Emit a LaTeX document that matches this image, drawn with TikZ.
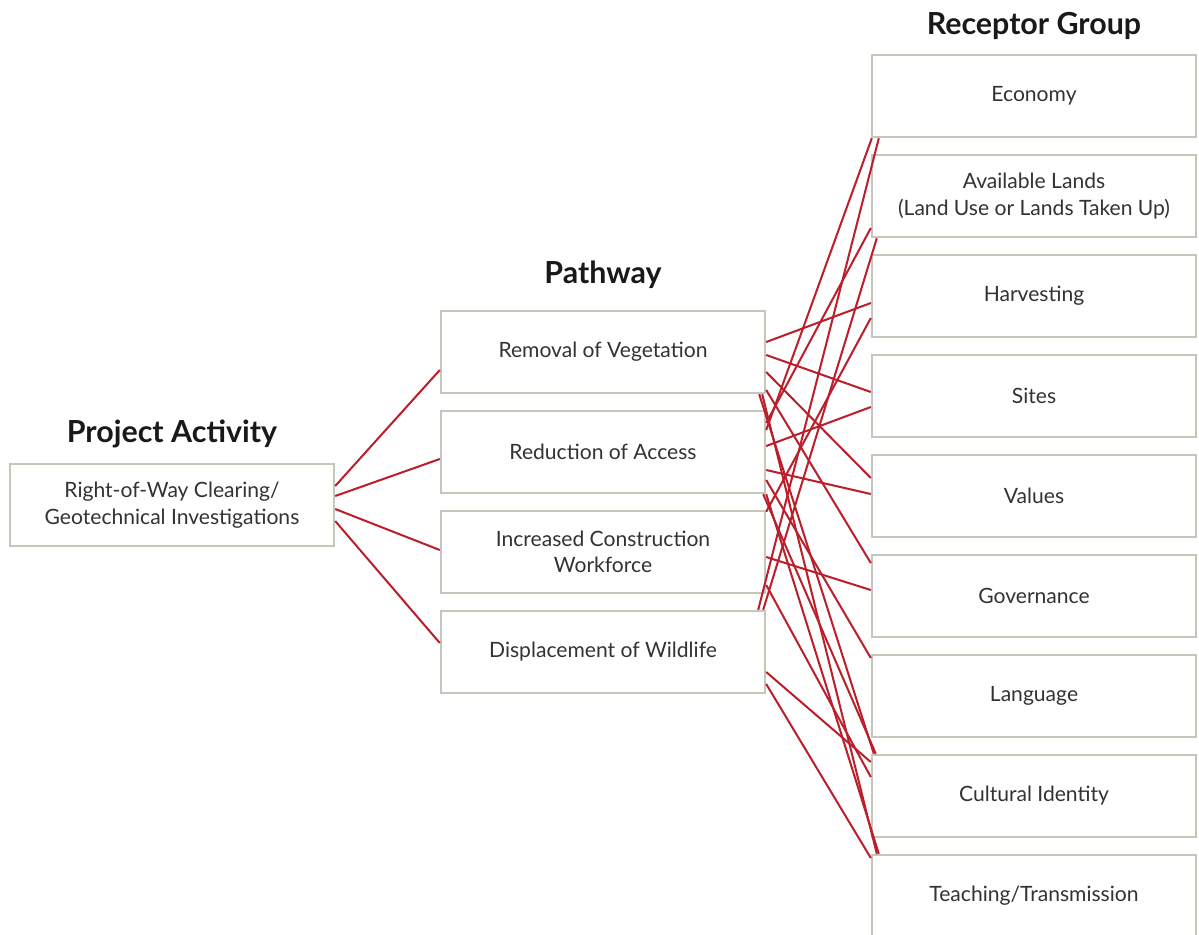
\documentclass[tikz,border=0pt]{standalone}
\usepackage{fontspec}
\setmainfont{Lato}
\usepackage{tikz}
\usetikzlibrary{calc}

\definecolor{boxgray}{HTML}{C6C6BB}
\definecolor{linkred}{HTML}{BC1F2C}
\definecolor{txtgray}{HTML}{333333}

\tikzset{
	box/.style={draw=boxgray,line width=1.4pt,fill=white,text=txtgray,align=center,
		minimum width=6.48cm,minimum height=1.64cm,inner sep=0pt,font=\fontsize{12}{15}\selectfont},
	head/.style={text=black!90,font=\fontsize{17.3}{20}\selectfont\bfseries},
	link/.style={draw=linkred,line width=1.15pt}
}

\begin{document}
\begin{tikzpicture}[x=0.02cm,y=-0.02cm]
	\useasboundingbox (0,0) rectangle (1199,934);
	\clip (0,0) rectangle (1199,934);
	
	% headings
	\node[head] (hact) at (172,434) {Project Activity};
	\node[head] (hpath) at (603,275) {Pathway};
	\node[head] (hrec) at (1034,26) {Receptor Group};
	
	% project activity
	\node[box] (act) at (172,505) {Right-of-Way Clearing/\\Geotechnical Investigations};
	
	% pathways
	\node[box] (rem) at (603,352) {Removal of Vegetation};
	\node[box] (red) at (603,452) {Reduction of Access};
	\node[box] (inc) at (603,552) {Increased Construction\\Workforce};
	\node[box] (dis) at (603,652) {Displacement of Wildlife};
	
	% receptor groups
	\node[box] (eco) at (1034,96) {Economy};
	\node[box] (ava) at (1034,196) {Available Lands\\(Land Use or Lands Taken Up)};
	\node[box] (har) at (1034,296) {Harvesting};
	\node[box] (sit) at (1034,396) {Sites};
	\node[box] (val) at (1034,496) {Values};
	\node[box] (gov) at (1034,596) {Governance};
	\node[box] (lan) at (1034,696) {Language};
	\node[box] (cul) at (1034,796) {Cultural Identity};
	\node[box] (tea) at (1034,896) {Teaching/Transmission};
	
	% activity to pathways
	\draw[link] ($(act.east)+(0,-19)$) -- ($(rem.west)+(0,18)$);
	\draw[link] ($(act.east)+(0,-9)$) -- ($(red.west)+(0,7)$);
	\draw[link] ($(act.east)+(0,4)$) -- ($(inc.west)+(0,-2)$);
	\draw[link] ($(act.east)+(0,16)$) -- ($(dis.west)+(0,-9)$);
	
	% removal of vegetation
	\draw[link] ($(rem.east)+(0,-10)$) -- ($(har.west)+(0,7)$);
	\draw[link] ($(rem.east)+(0,3)$) -- ($(sit.west)+(0,-4)$);
	\draw[link] ($(rem.east)+(0,20)$) -- ($(val.west)+(0,-18)$);
	\draw[link] ($(rem.east)+(0,38)$) -- ($(gov.west)+(0,-33)$);
	\draw[link] ($(rem.south east)+(-7,0)$) -- ($(cul.north west)+(3,0)$);
	\draw[link] ($(rem.south east)+(-4,0)$) -- ($(tea.north west)+(6,0)$);
	
	% reduction of access
	\draw[link] ($(red.east)+(0,-22)$) -- ($(eco.south west)+(1,0)$);
	\draw[link] ($(red.east)+(0,-29)$) -- ($(ava.west)+(0,32)$);
	\draw[link] ($(red.east)+(0,-6)$) -- ($(sit.west)+(0,11)$);
	\draw[link] ($(red.east)+(0,18)$) -- ($(val.west)+(0,-2)$);
	\draw[link] ($(red.east)+(0,28)$) -- ($(lan.west)+(0,-38)$);
	\draw[link] ($(red.south east)+(-3,0)$) -- ($(cul.north west)+(5,0)$);
	\draw[link] ($(red.south east)+(0,0)$) -- ($(tea.north west)+(8,0)$);
	
	% increased construction workforce
	\draw[link] ($(inc.north east)+(0,2)$) -- ($(har.west)+(0,22)$);
	\draw[link] ($(inc.east)+(0,5)$) -- ($(gov.west)+(0,-6)$);
	\draw[link] ($(inc.east)+(0,33)$) -- ($(cul.west)+(0,-19)$);
	
	% displacement of wildlife
	\draw[link] ($(dis.north east)+(-8,0)$) -- ($(eco.south west)+(8,0)$);
	\draw[link] ($(dis.north east)+(-3,0)$) -- ($(ava.south west)+(6,0)$);
	\draw[link] ($(dis.east)+(0,20)$) -- ($(cul.west)+(0,-34)$);
	\draw[link] ($(dis.east)+(0,32)$) -- ($(tea.west)+(0,-38)$);
\end{tikzpicture}
\end{document}
